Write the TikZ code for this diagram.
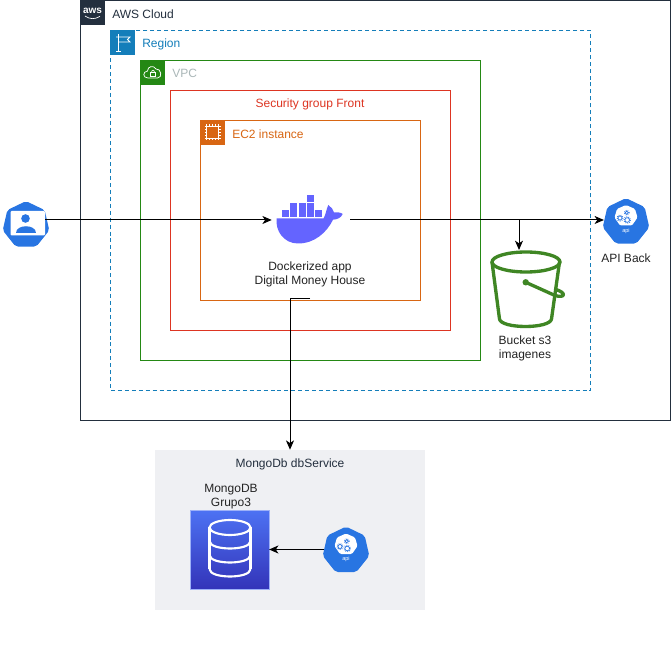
\documentclass[tikz,border=0pt]{standalone}
\usepackage{fontspec}
\setmainfont{Liberation Sans}
\usetikzlibrary{arrows.meta,shapes.geometric}
\definecolor{awsdark}{HTML}{232F3E}
\definecolor{regionblue}{HTML}{147EBA}
\definecolor{vpcgreen}{HTML}{248814}
\definecolor{sgred}{HTML}{DD3522}
\definecolor{ecorange}{HTML}{D86613}
\definecolor{vpcgrey}{HTML}{AAB7B8}
\definecolor{bucketgreen}{HTML}{3F8624}
\definecolor{k8sblue}{HTML}{2875E2}
\definecolor{dockerblue}{HTML}{6464FF}
\definecolor{groupgrey}{HTML}{EFF0F3}
\definecolor{dbtop}{HTML}{4D72F3}
\definecolor{dbbottom}{HTML}{3334B9}
\definecolor{txt}{HTML}{232323}
\tikzset{
  x=0.75pt,y=-0.75pt,
  lbl/.style={font=\fontsize{9}{10.5}\selectfont,text=txt,align=center,inner sep=0pt},
  grouplbl/.style={font=\fontsize{9}{10.5}\selectfont,anchor=west,inner sep=0pt},
  heptagon/.style={regular polygon,regular polygon sides=7,fill=k8sblue,draw=k8sblue,line width=1.2pt,rounded corners=1.5pt,minimum size=34.5pt,inner sep=0pt},
  conn/.style={-{Stealth[length=7pt,width=6pt,inset=2pt]},black,line width=0.75pt},
  cog/.style={draw=k8sblue,line width=0.5pt},
  apiicon/.pic={
    \fill[white,rounded corners=1pt] (0,-16) -- (9,-12) -- (11.5,-3.5) -- (6,4.5) -- (-6,4.5) -- (-11.5,-3.5) -- (-9,-12) -- cycle;
    \draw[cog] (-6,-3) circle[radius=2];
    \draw[cog,densely dotted,line width=0.9pt] (-6,-3) circle[radius=2.9];
    \draw[cog] (0.7,-8.3) circle[radius=1.6];
    \draw[cog,densely dotted,line width=0.8pt] (0.7,-8.3) circle[radius=2.4];
    \draw[cog] (1.2,-1) circle[radius=2.3];
    \draw[cog,densely dotted,line width=0.9pt] (1.2,-1) circle[radius=3.2];
    \node[text=white,font=\fontsize{4.2}{5}\selectfont,inner sep=0pt] at (0,10) {api};
  },
}
\begin{document}
\begin{tikzpicture}
\useasboundingbox (0,0) rectangle (671,655);
\fill[white] (0,0) rectangle (671,655);

% nested groups
\draw[awsdark,line width=0.75pt] (80.5,0.5) rectangle (670.5,420.5);
\draw[regionblue,line width=0.75pt,dash pattern=on 3pt off 2.2pt] (110.5,30.5) rectangle (590.5,390.5);
\draw[vpcgreen,line width=0.75pt] (140.5,60.5) rectangle (480.5,360.5);
\draw[sgred,line width=0.75pt] (170.5,90.5) rectangle (450.5,330.5);
\draw[ecorange,line width=0.75pt] (200.5,120.5) rectangle (420.5,300.5);

% AWS tab
\fill[awsdark] (80,0) rectangle (105,25);
\node[text=white,font=\fontsize{7.5}{8}\bfseries\selectfont,inner sep=0pt] (awslogo) at (92.5,10.5) {aws};
\draw[white,line width=0.5pt] (85,16) .. controls (90,19.5) and (95,19.5) .. (100,16.3);
\node[grouplbl,text=awsdark] (awslbl) at (112,14) {AWS Cloud};

% Region tab
\fill[regionblue] (110,30) rectangle (135,55);
\draw[white,line width=0.6pt] (118.5,34.5) -- (118.5,51.5) (116,51.5) -- (121,51.5);
\draw[white,line width=0.6pt] (116,37) -- (130,37) -- (127.5,39.5) -- (130,42) -- (119,42);
\node[grouplbl,text=regionblue] (regionlbl) at (142,44) {Region};

% VPC tab
\fill[vpcgreen] (140,60) rectangle (165,85);
\draw[white,line width=0.55pt] (148,78) .. controls (142.5,78) and (142.5,71.5) .. (147.5,71)
  .. controls (147.5,66) and (154,65) .. (156,69)
  .. controls (161,68) and (163,78) .. (157.5,78) -- cycle;
\draw[white,line width=0.55pt] (150.5,72.5) rectangle (155.5,76.5);
\draw[white,line width=0.5pt] (151.5,72.5) .. controls (151.5,69.5) and (154.5,69.5) .. (154.5,72.5);
\node[grouplbl,text=vpcgrey] (vpclbl) at (172,73.5) {VPC};

% SG label
\node[lbl,text=sgred] (sglbl) at (310,104.5) {Security group Front};

% EC2 tab
\fill[ecorange] (200,120) rectangle (225,145);
\draw[white,line width=0.6pt] (206.5,126.5) rectangle (218.5,138.5);
\foreach \t in {0,3,6,9,12}{
  \draw[white,line width=0.45pt] (206.5+\t,124.5) -- (206.5+\t,140.5);
  \draw[white,line width=0.45pt] (204.5,126.5+\t) -- (220.5,126.5+\t);
}
\fill[ecorange] (207,127) rectangle (218,138);
\node[grouplbl,text=ecorange] (eclbl) at (232,134) {EC2 instance};

% Docker whale
\node[minimum width=58.5pt,minimum height=15pt,inner sep=0pt] (docker) at (311,220) {};
\fill[dockerblue] (276.7,218.3) -- (323.5,218.3)
  .. controls (325.5,216) and (326,210) .. (328.3,205)
  .. controls (331,207) and (333.5,209.5) .. (334,212.5)
  .. controls (337,212) and (341,212.5) .. (342.7,214)
  .. controls (341,218) and (337,219.5) .. (333,219.7)
  .. controls (327,232) and (315,243.5) .. (298,243.5)
  .. controls (284,243.5) and (275,231) .. (276.7,218.3) -- cycle;
\foreach \bx/\by in {282/210,290.3/210,298.7/210,307/210,315/210,290.3/202.7,298.7/202.7,307/202.7,307/195}{
  \fill[dockerblue] (\bx,\by) rectangle ++(7,7);
}
\node[lbl,minimum width=82.5pt,minimum height=36pt] (dockerlbl) at (310,274) {Dockerized app\\Digital Money House};

% User
\node[heptagon] (user) at (26,225) {};
\fill[white,rounded corners=0.8pt] (10.5,211) rectangle (45,235.5);
\fill[k8sblue] (25.5,218.5) circle[radius=4.3];
\fill[k8sblue] (15.5,233.5) .. controls (15.5,224) and (35.5,224) .. (35.5,233.5) -- cycle;

% API Back
\node[heptagon] (apiback) at (626,222) {};
\pic at (626,221) {apiicon};
\node[lbl] (apibacklbl) at (626,258.5) {API Back};

% Bucket
\coordinate (bucket) at (519,250);
\begin{scope}[bucketgreen,line width=2.5pt,line join=round,line cap=round]
\draw (526,262) ellipse[x radius=34,y radius=10];
\draw (492,262) -- (499.5,319) .. controls (501,329) and (550,329) .. (551.5,319) -- (559.5,262);
\draw (525.7,282.3) -- (555,295.5) .. controls (565,298.5) and (567,293) .. (556,289.5);
\end{scope}
\fill[bucketgreen] (525.7,282.3) circle[radius=3.2];
\node[lbl] (bucketlbl) at (525,348) {Bucket s3\\imagenes};

% Mongo group
\node[fill=groupgrey,minimum width=202.5pt,minimum height=120pt,inner sep=0pt] (mongo) at (290,530) {};
\node[lbl,text=awsdark] (mongolbl) at (290,464) {MongoDb dbService};
\node[lbl] (dblbl) at (231,497) {MongoDB\\Grupo3};
\node[top color=dbtop,bottom color=dbbottom,draw=dbtop!55!white,line width=0.4pt,minimum size=59pt,inner sep=0pt] (db) at (229.5,549.5) {};
\begin{scope}[white,line width=1.6pt]
\draw (230,527.5) ellipse[x radius=20.5,y radius=7.5];
\draw (209.5,527.5) -- (209.5,569);
\draw (250.5,527.5) -- (250.5,569);
\draw (209.5,569) .. controls (209.5,579) and (250.5,579) .. (250.5,569);
\draw (209.5,541) .. controls (209.5,551) and (250.5,551) .. (250.5,541);
\draw (209.5,555) .. controls (209.5,565) and (250.5,565) .. (250.5,555);
\end{scope}

% API in Mongo group
\node[heptagon] (apidb) at (346,550.5) {};
\pic at (346,549.5) {apiicon};

% Connectors
\draw[conn] ([xshift=-2pt]user.east |- docker.west) -- (docker.west);
\draw[conn] (docker.east) -- (docker.east -| apiback.west);
\draw[conn] (docker.east -| bucket) -- (bucket);
\draw[conn] (dockerlbl.south) -- (dockerlbl.south -| mongo.north) -- (mongo.north);
\draw[conn] (apidb.west |- db.east) -- (db.east);
\end{tikzpicture}
\end{document}
